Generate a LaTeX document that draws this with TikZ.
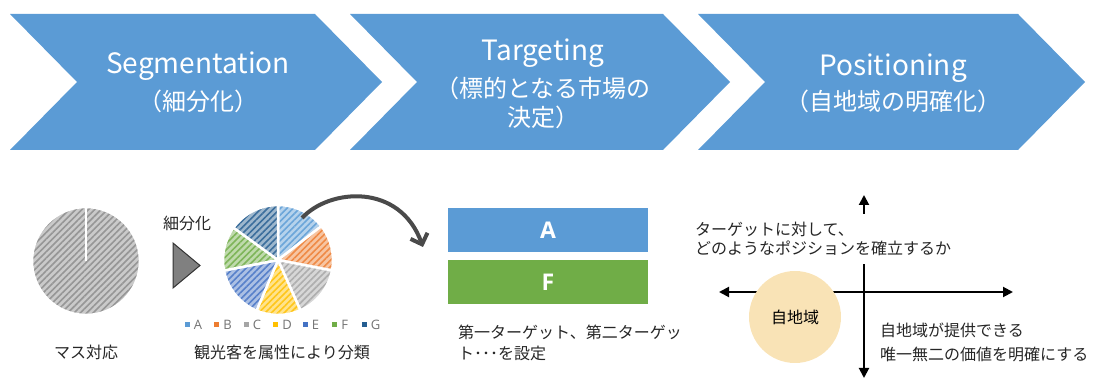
\documentclass[tikz,border=0pt]{standalone}
\usepackage{fontspec}
\setmainfont{Open Sans}
\newfontfamily\jp{Noto Sans CJK JP}
\usepackage{tikz}
\usetikzlibrary{arrows.meta, positioning, patterns.meta}
\definecolor{chevblue}{HTML}{5B9BD5}
\definecolor{colA}{HTML}{5B9BD5}
\definecolor{colB}{HTML}{ED7D31}
\definecolor{colC}{HTML}{A5A5A5}
\definecolor{colD}{HTML}{FFC000}
\definecolor{colE}{HTML}{4472C4}
\definecolor{colF}{HTML}{70AD47}
\definecolor{colG}{HTML}{255E91}
\definecolor{massgray}{HTML}{8A8A8A}
\definecolor{arrowgray}{HTML}{4A4A4A}
\definecolor{owncol}{HTML}{F9E3B6}
\tikzstyle{arrow} = [line width=4pt, draw=arrowgray, -{Straight Barb[length=9pt,width=18pt]}]
\tikzstyle{axis} = [line width=2pt, {Triangle[length=10pt,width=10pt]}-{Triangle[length=10pt,width=10pt]}]
\newcommand{\latin}{\fontsize{28}{29}\selectfont}

\begin{document}
\begin{tikzpicture}
	[x=1pt, y=-1pt,
	chevron/.style={fill=chevblue},
	chevtext/.style={text=white, align=center, font=\jp\fontsize{24}{29}\selectfont},
	slice/.style={preaction={fill=#1!45}, pattern={Lines[angle=45,distance=4.5pt,line width=1.6pt]}, pattern color=#1!90, draw=white, line width=2.5pt},
	note/.style={font=\jp\fontsize{16}{#1}\selectfont, text=black!85, align=left},
	note/.default=20,
	bar/.style={minimum width=200pt, minimum height=44pt, inner sep=0pt, font=\bfseries\fontsize{23}{23}\selectfont, text=white},
	legend/.style={font=\fontsize{13}{13}\selectfont, text=black!55, inner sep=0pt}]
	\useasboundingbox (0,0) rectangle (1093,387);

	\foreach \l/\r in {10/315, 350/663, 698/1018}
		\fill[chevron] (\l,14) -- (\r,14) -- (\r+67,82) -- (\r,150) -- (\l,150) -- (\l+67,82) -- cycle;
	\node[chevtext] (seg) at (198,82) {{\latin Segmentation}\\[8pt]（細分化）};
	\node[chevtext] (tgt) at (543,84) {{\latin Targeting}\\[8pt]（標的となる市場の\\決定）};
	\node[chevtext] (pos) at (893,83) {{\latin Positioning}\\[6pt]（自地域の明確化）};

	% segmentation
	\path[slice=massgray] (86,261) circle[radius=54];
	\draw[white, line width=2.5pt] (86,261) -- (86,207);
	\node[note] (mass) at (86,352) {マス対応};
	\node[note] (split) at (187,223) {細分化};
	\filldraw[fill=black!50, draw=black!80, line width=1pt] (173,243) -- (173,288) -- (200,265.5) -- cycle;

	\coordinate (pie) at (278,260);
	\foreach \a/\b/\c in {-90/-38/colA, -38/11/colB, 11/66/colC, 66/113/colD, 113/169/colE, 169/216/colF, 216/270/colG}
		\path[slice=\c] (pie) -- ++(\a:55) arc[start angle=\a, end angle=\b, radius=55] -- cycle;
	\foreach \n/\c [count=\i from 0] in {A/colA, B/colB, C/colC, D/colD, E/colE, F/colF, G/colG}
	{
		\node[fill=\c, minimum size=5pt, inner sep=0pt] (sq\n) at (187+29.5*\i,325) {};
		\node[legend, right=4pt of sq\n] (leg\n) {\n};
	}
	\node[note] (classify) at (282,352) {観光客を属性により分類};

	% targeting
	\node[bar, fill=colA] (barA) at (548,230) {A};
	\node[bar, fill=colF, below=8pt of barA] (barF) {F};
	\node[note=21, anchor=north west, inner sep=0pt] (settext) at (458,325) {第一ターゲット、第二ターゲッ\\ト･･･を設定};
	\coordinate (arrfrom) at (302,218);
	\coordinate (arrto) at (423,247);
	\draw[arrow] (arrfrom) .. controls (330,188) and (400,183) .. (arrto);

	% positioning
	\coordinate (axT) at (864,195);
	\coordinate (axB) at (864,378);
	\coordinate (axL) at (719,292);
	\coordinate (axR) at (1013,292);
	\draw[axis] (axB) -- (axT);
	\draw[axis] (axL) -- (axR);
	\node[circle, fill=owncol, minimum size=92pt, font=\jp\fontsize{16}{16}\selectfont] (own) at (795,317) {自地域};
	\node[note=19, fill=white, anchor=west, inner xsep=1pt, inner ysep=8pt] (question) at (694,239) {ターゲットに対して、\\どのようなポジションを確立するか};
	\node[note=24, anchor=west, inner sep=0pt] (value) at (880,342) {自地域が提供できる\\唯一無二の価値を明確にする};
\end{tikzpicture}
\end{document}
